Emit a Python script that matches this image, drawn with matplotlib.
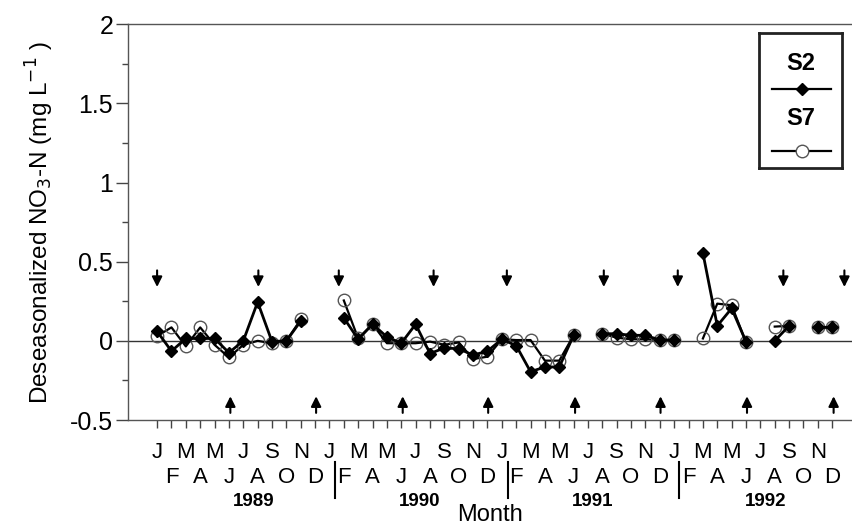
import numpy as np
import matplotlib.pyplot as plt
from matplotlib.lines import Line2D

plt.rcParams['font.family'] = ['Liberation Sans', 'DejaVu Sans']

# months Jan 1989 .. Dec 1992 (index 0..47), nan = no sample
nan = np.nan
s2 = [0.06, -0.065, 0.015, 0.015, 0.015, -0.075, 0.0, 0.245, -0.005, 0.0, 0.125, nan,
      nan, 0.145, 0.01, 0.105, 0.025, -0.015, 0.105, -0.08, -0.045, -0.05, -0.09, -0.065,
      0.01, -0.03, -0.195, -0.165, -0.165, 0.035, nan, 0.045, 0.045, 0.035, 0.035, 0.005,
      0.005, nan, 0.555, 0.095, 0.205, -0.005, nan, 0.0, 0.095, nan, 0.085, 0.085]
s7 = [0.03, 0.085, -0.035, 0.085, -0.025, -0.105, -0.025, 0.0, -0.015, 0.0, 0.135, nan,
      nan, 0.255, 0.015, 0.105, -0.015, -0.015, -0.015, -0.005, -0.025, -0.01, -0.115, -0.1,
      0.01, 0.005, 0.005, -0.125, -0.125, 0.035, nan, 0.045, 0.02, 0.01, 0.01, 0.005,
      0.005, nan, 0.015, 0.235, 0.225, -0.01, nan, 0.09, 0.095, nan, 0.085, 0.085]
months = np.arange(48)

odd_labels = ['J', 'M', 'M', 'J', 'S', 'N']
even_labels = ['F', 'A', 'J', 'A', 'O', 'D']
years = ['1989', '1990', '1991', '1992']
year_pos = [6.7, 18.3, 30.3, 42.4]
separators = [12.4, 24.4, 36.35]

down_arrows = [0.0, 7.05, 12.65, 19.25, 24.35, 31.1, 36.25, 43.6, 47.85]
up_arrows = [5.1, 11.07, 17.1, 23.05, 29.1, 35.05, 41.07, 47.1]

fig = plt.figure(figsize=(8.52, 5.26), dpi=100)
ax = fig.add_axes([0.150, 0.2015, 0.850, 0.7525])

ax.axhline(0, color='#333333', lw=1.0, zorder=1)

ax.plot(months, s7, color='black', lw=1.6, marker='o', ms=9, mfc='none',
        mec='#555555', mew=1.0, zorder=2)
ax.plot(months, s2, color='black', lw=2.0, marker='D', ms=6.5, mfc='black',
        mec='black', zorder=3)

for x in down_arrows:
    ax.annotate('', xy=(x, 0.34), xytext=(x, 0.445),
                arrowprops=dict(arrowstyle='-|>', color='black', lw=1.5,
                                mutation_scale=15, shrinkA=0, shrinkB=0))
for x in up_arrows:
    ax.annotate('', xy=(x, -0.35), xytext=(x, -0.455),
                arrowprops=dict(arrowstyle='-|>', color='black', lw=1.5,
                                mutation_scale=15, shrinkA=0, shrinkB=0))

ax.set_xlim(-2.04, 48.38)
ax.set_ylim(-0.5, 2)
ax.set_yticks([-0.5, 0, 0.5, 1, 1.5, 2])
ax.set_yticklabels(['-0.5', '0', '0.5', '1', '1.5', '2'], fontsize=18)
ax.set_yticks(np.arange(-0.5, 2.01, 0.25), minor=True)
ax.tick_params(axis='y', which='major', direction='out', length=8.5, width=1,
               color='#444444', pad=2)
ax.tick_params(axis='y', which='minor', direction='out', length=4, width=1,
               color='#444444')
ax.set_xticks(months)
ax.set_xticklabels([])
ax.tick_params(axis='x', direction='out', length=5.5, width=1, color='#444444')

for side in ['left', 'bottom', 'top']:
    ax.spines[side].set_color('#555555')
    ax.spines[side].set_linewidth(1.0)
ax.spines['right'].set_visible(False)

trans = ax.get_xaxis_transform()
for i in months:
    if i % 2 == 0:
        ax.text(i, -0.083, odd_labels[(i % 12) // 2], transform=trans,
                ha='center', va='center', fontsize=16)
    else:
        ax.text(i, -0.146, even_labels[(i % 12) // 2], transform=trans,
                ha='center', va='center', fontsize=16)
for y, xp in zip(years, year_pos):
    ax.text(xp, -0.205, y, transform=trans, ha='center', va='center',
            fontsize=13.5, fontweight='bold')
for xs in separators:
    ax.add_line(Line2D([xs, xs], [-0.106, -0.196], transform=trans,
                       color='black', lw=1.5, clip_on=False))

ax.text(0.5, -0.255, 'Month', transform=ax.transAxes, ha='center', va='baseline',
        fontsize=17)
ax.set_ylabel('Deseasonalized NO$_3$-N (mg L$^{-1}$ )', fontsize=17.5, labelpad=10)

# legend box
lg = fig.add_axes([759 / 852, 1 - 168 / 526, 83 / 852, 135 / 526])
lg.set_xlim(0, 1)
lg.set_ylim(0, 1)
lg.set_xticks([])
lg.set_yticks([])
for sp in lg.spines.values():
    sp.set_linewidth(2.0)
    sp.set_color('#222222')
lg.text(0.5, 0.775, 'S2', ha='center', va='center', fontsize=17, fontweight='bold')
lg.plot([0.16, 0.87], [0.585, 0.585], color='black', lw=1.6)
lg.plot([0.515], [0.585], marker='D', ms=6, color='black')
lg.text(0.5, 0.365, 'S7', ha='center', va='center', fontsize=17, fontweight='bold')
lg.plot([0.16, 0.87], [0.125, 0.125], color='black', lw=1.6)
lg.plot([0.515], [0.125], marker='o', ms=9, mfc='white', mec='#555555', mew=1.0)

fig.savefig('out.png', dpi=100)
